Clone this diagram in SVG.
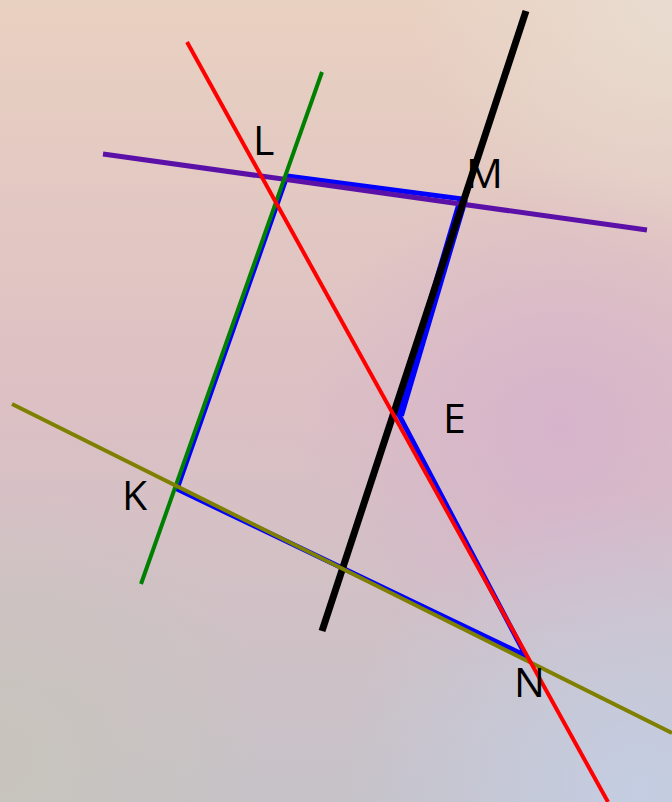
<svg xmlns="http://www.w3.org/2000/svg" width="672" height="802" viewBox="0 0 672 802">
<defs>
<linearGradient id="bg" x1="0" y1="0" x2="0" y2="1">
<stop offset="0" stop-color="#e9d1c1"/>
<stop offset="0.5" stop-color="#dcc0c4"/>
<stop offset="1" stop-color="#c6c2c8"/>
</linearGradient>
<radialGradient id="pink" cx="560" cy="430" r="260" gradientUnits="userSpaceOnUse">
<stop offset="0" stop-color="#d6b2cc" stop-opacity="0.9"/>
<stop offset="1" stop-color="#d6b2cc" stop-opacity="0"/>
</radialGradient>
<radialGradient id="blue" cx="640" cy="790" r="300" gradientUnits="userSpaceOnUse">
<stop offset="0" stop-color="#c4cde2" stop-opacity="1"/>
<stop offset="1" stop-color="#c4cde2" stop-opacity="0"/>
</radialGradient>
<radialGradient id="tr" cx="672" cy="0" r="260" gradientUnits="userSpaceOnUse">
<stop offset="0" stop-color="#e9dcd0" stop-opacity="1"/>
<stop offset="1" stop-color="#e9dcd0" stop-opacity="0"/>
</radialGradient>
<radialGradient id="bl" cx="0" cy="760" r="280" gradientUnits="userSpaceOnUse">
<stop offset="0" stop-color="#c8c4bc" stop-opacity="1"/>
<stop offset="1" stop-color="#c8c4bc" stop-opacity="0"/>
</radialGradient>
</defs>
<style>
.ln{fill:none;stroke-linecap:butt}
.lbl{font-family:"Open Sans","Noto Sans",sans-serif;font-size:41px;fill:#000}
</style>
<g id="background">
<rect width="672" height="802" fill="url(#bg)"/>
<rect width="672" height="802" fill="url(#tr)"/>
<rect width="672" height="802" fill="url(#pink)"/>
<rect width="672" height="802" fill="url(#bl)"/>
<rect width="672" height="802" fill="url(#blue)"/>
</g>
<g id="polygon">
<polygon points="287,176 463,199 399,415 526,656 177,489" fill="none" stroke="#0000ff" stroke-width="5" stroke-linejoin="miter"/>
<line x1="463" y1="199" x2="399" y2="415" stroke="#0000ff" stroke-width="10"/>
</g>
<g id="connectors">
<line class="ln" x1="103" y1="154" x2="647" y2="230" stroke="#5b10a8" stroke-width="5"/>
<line class="ln" x1="322" y1="72" x2="141" y2="584" stroke="#008000" stroke-width="4"/>
<line class="ln" x1="526" y1="11" x2="322" y2="631" stroke="#000000" stroke-width="7"/>
<line class="ln" x1="12" y1="404" x2="672" y2="733" stroke="#808000" stroke-width="4"/>
<line class="ln" x1="187" y1="42" x2="608" y2="802" stroke="#ff0000" stroke-width="4"/>
</g>
<g id="label-L"><text class="lbl" x="253" y="155">L</text></g>
<g id="label-M"><text class="lbl" x="466" y="188">M</text></g>
<g id="label-E"><text class="lbl" x="443" y="433">E</text></g>
<g id="label-K"><text class="lbl" x="122" y="510">K</text></g>
<g id="label-N"><text class="lbl" x="514" y="697">N</text></g>
</svg>
